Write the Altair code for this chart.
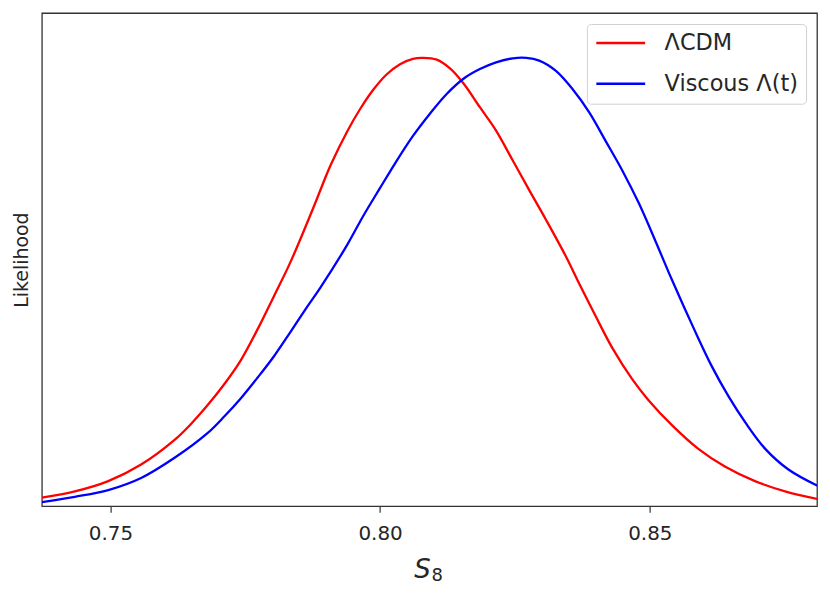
import altair as alt
import pandas as pd

# ΛCDM likelihood (normalised to peak = 1)
lcdm_s8 = [0.7373, 0.7434, 0.7496, 0.7557, 0.7619, 0.7649, 0.7680, 0.7711, 0.7742,
           0.7773, 0.7803, 0.7834, 0.7877, 0.7908, 0.7939, 0.7963, 0.7988,
           0.8012, 0.8037, 0.8061, 0.8080, 0.8105, 0.8129, 0.8154, 0.8185, 0.8215,
           0.8246, 0.8277, 0.8308, 0.8345, 0.8369, 0.8400, 0.8431, 0.8467,
           0.8498, 0.8541, 0.8590, 0.8640, 0.8695, 0.8757, 0.8812]
lcdm_like = [0.019, 0.033, 0.056, 0.093, 0.148, 0.183, 0.225, 0.272, 0.326,
             0.395, 0.468, 0.545, 0.668, 0.760, 0.836, 0.886, 0.930,
             0.963, 0.986, 0.998, 1.000, 0.996, 0.977, 0.944, 0.890, 0.838,
             0.771, 0.704, 0.638, 0.556, 0.497, 0.423, 0.352, 0.284,
             0.236, 0.181, 0.128, 0.088, 0.056, 0.031, 0.016]

# Viscous Λ(t) likelihood
visc_s8 = [0.7373, 0.7434, 0.7496, 0.7557, 0.7619, 0.7680, 0.7711, 0.7742, 0.7773,
           0.7803, 0.7834, 0.7865, 0.7889, 0.7939, 0.7969, 0.8000, 0.8031, 0.8061,
           0.8092, 0.8123, 0.8154, 0.8185, 0.8215, 0.8246, 0.8271, 0.8295, 0.8326,
           0.8357, 0.8388, 0.8418, 0.8449, 0.8480, 0.8511, 0.8541, 0.8584,
           0.8615, 0.8646, 0.8677, 0.8714, 0.8757, 0.8812]
visc_like = [0.009, 0.021, 0.036, 0.063, 0.108, 0.163, 0.200, 0.241, 0.287,
             0.334, 0.389, 0.445, 0.487, 0.583, 0.648, 0.710, 0.771, 0.826,
             0.875, 0.919, 0.953, 0.975, 0.990, 0.999, 1.000, 0.994, 0.971,
             0.930, 0.878, 0.815, 0.749, 0.675, 0.590, 0.505, 0.390,
             0.312, 0.245, 0.187, 0.128, 0.082, 0.045]

series_names = ["ΛCDM", "Viscous Λ(t)"]
series_colors = ["#ff0000", "#0000ff"]
x_ticks = [0.75, 0.80, 0.85]

df = pd.concat([
    pd.DataFrame({"S8": lcdm_s8, "L": lcdm_like, "model": series_names[0], "o": range(len(lcdm_s8))}),
    pd.DataFrame({"S8": visc_s8, "L": visc_like, "model": series_names[1], "o": range(len(visc_s8))}),
])

lines = alt.Chart(df).mark_line(strokeWidth=2.3, interpolate="catmull-rom", clip=True).encode(
    x=alt.X("S8:Q",
            scale=alt.Scale(domain=[0.7373, 0.881], nice=False, zero=False),
            axis=alt.Axis(values=x_ticks, format=".2f", title=None,
                          labelFontSize=20, labelPadding=11,
                          tickSize=6, tickColor="#333", tickWidth=1.2,
                          domain=False, grid=False, labelColor="#262626")),
    y=alt.Y("L:Q",
            scale=alt.Scale(domain=[0, 1.1], nice=False),
            axis=alt.Axis(title="Likelihood", labels=False, ticks=False, domain=False,
                          grid=False, titleFontSize=19, titleFontWeight="normal",
                          titlePadding=10, titleColor="#262626")),
    color=alt.Color("model:N",
                    scale=alt.Scale(domain=series_names, range=series_colors),
                    legend=alt.Legend(title=None, orient="top-right", offset=11,
                                      symbolType="stroke", symbolSize=2400,
                                      symbolStrokeWidth=2.5, labelFontSize=22.5,
                                      labelOffset=18, padding=8, rowPadding=18,
                                      clipHeight=22,
                                      strokeColor="#d0d0d0", fillColor="white",
                                      cornerRadius=4, labelColor="#262626")),
    order="o:Q",
)

# x-axis title "S" (italic) with subscript "8"
title_s = alt.Chart(pd.DataFrame({"t": ["S"]})).mark_text(
    fontSize=26, fontStyle="italic", align="center", baseline="alphabetic", color="#262626"
).encode(text="t:N", x=alt.value(382), y=alt.value(567))
title_8 = alt.Chart(pd.DataFrame({"t": ["8"]})).mark_text(
    fontSize=18, align="left", baseline="alphabetic", color="#262626"
).encode(text="t:N", x=alt.value(391), y=alt.value(570))

chart = alt.layer(lines, title_s, title_8).properties(
    width=778, height=495,
    padding={"left": 5, "top": 4, "right": 5, "bottom": 5},
).configure(font="DejaVu Sans").configure_view(
    stroke="#333", strokeWidth=1.3
)

chart.save("out.html", embed_options={"renderer": "svg", "actions": False})
